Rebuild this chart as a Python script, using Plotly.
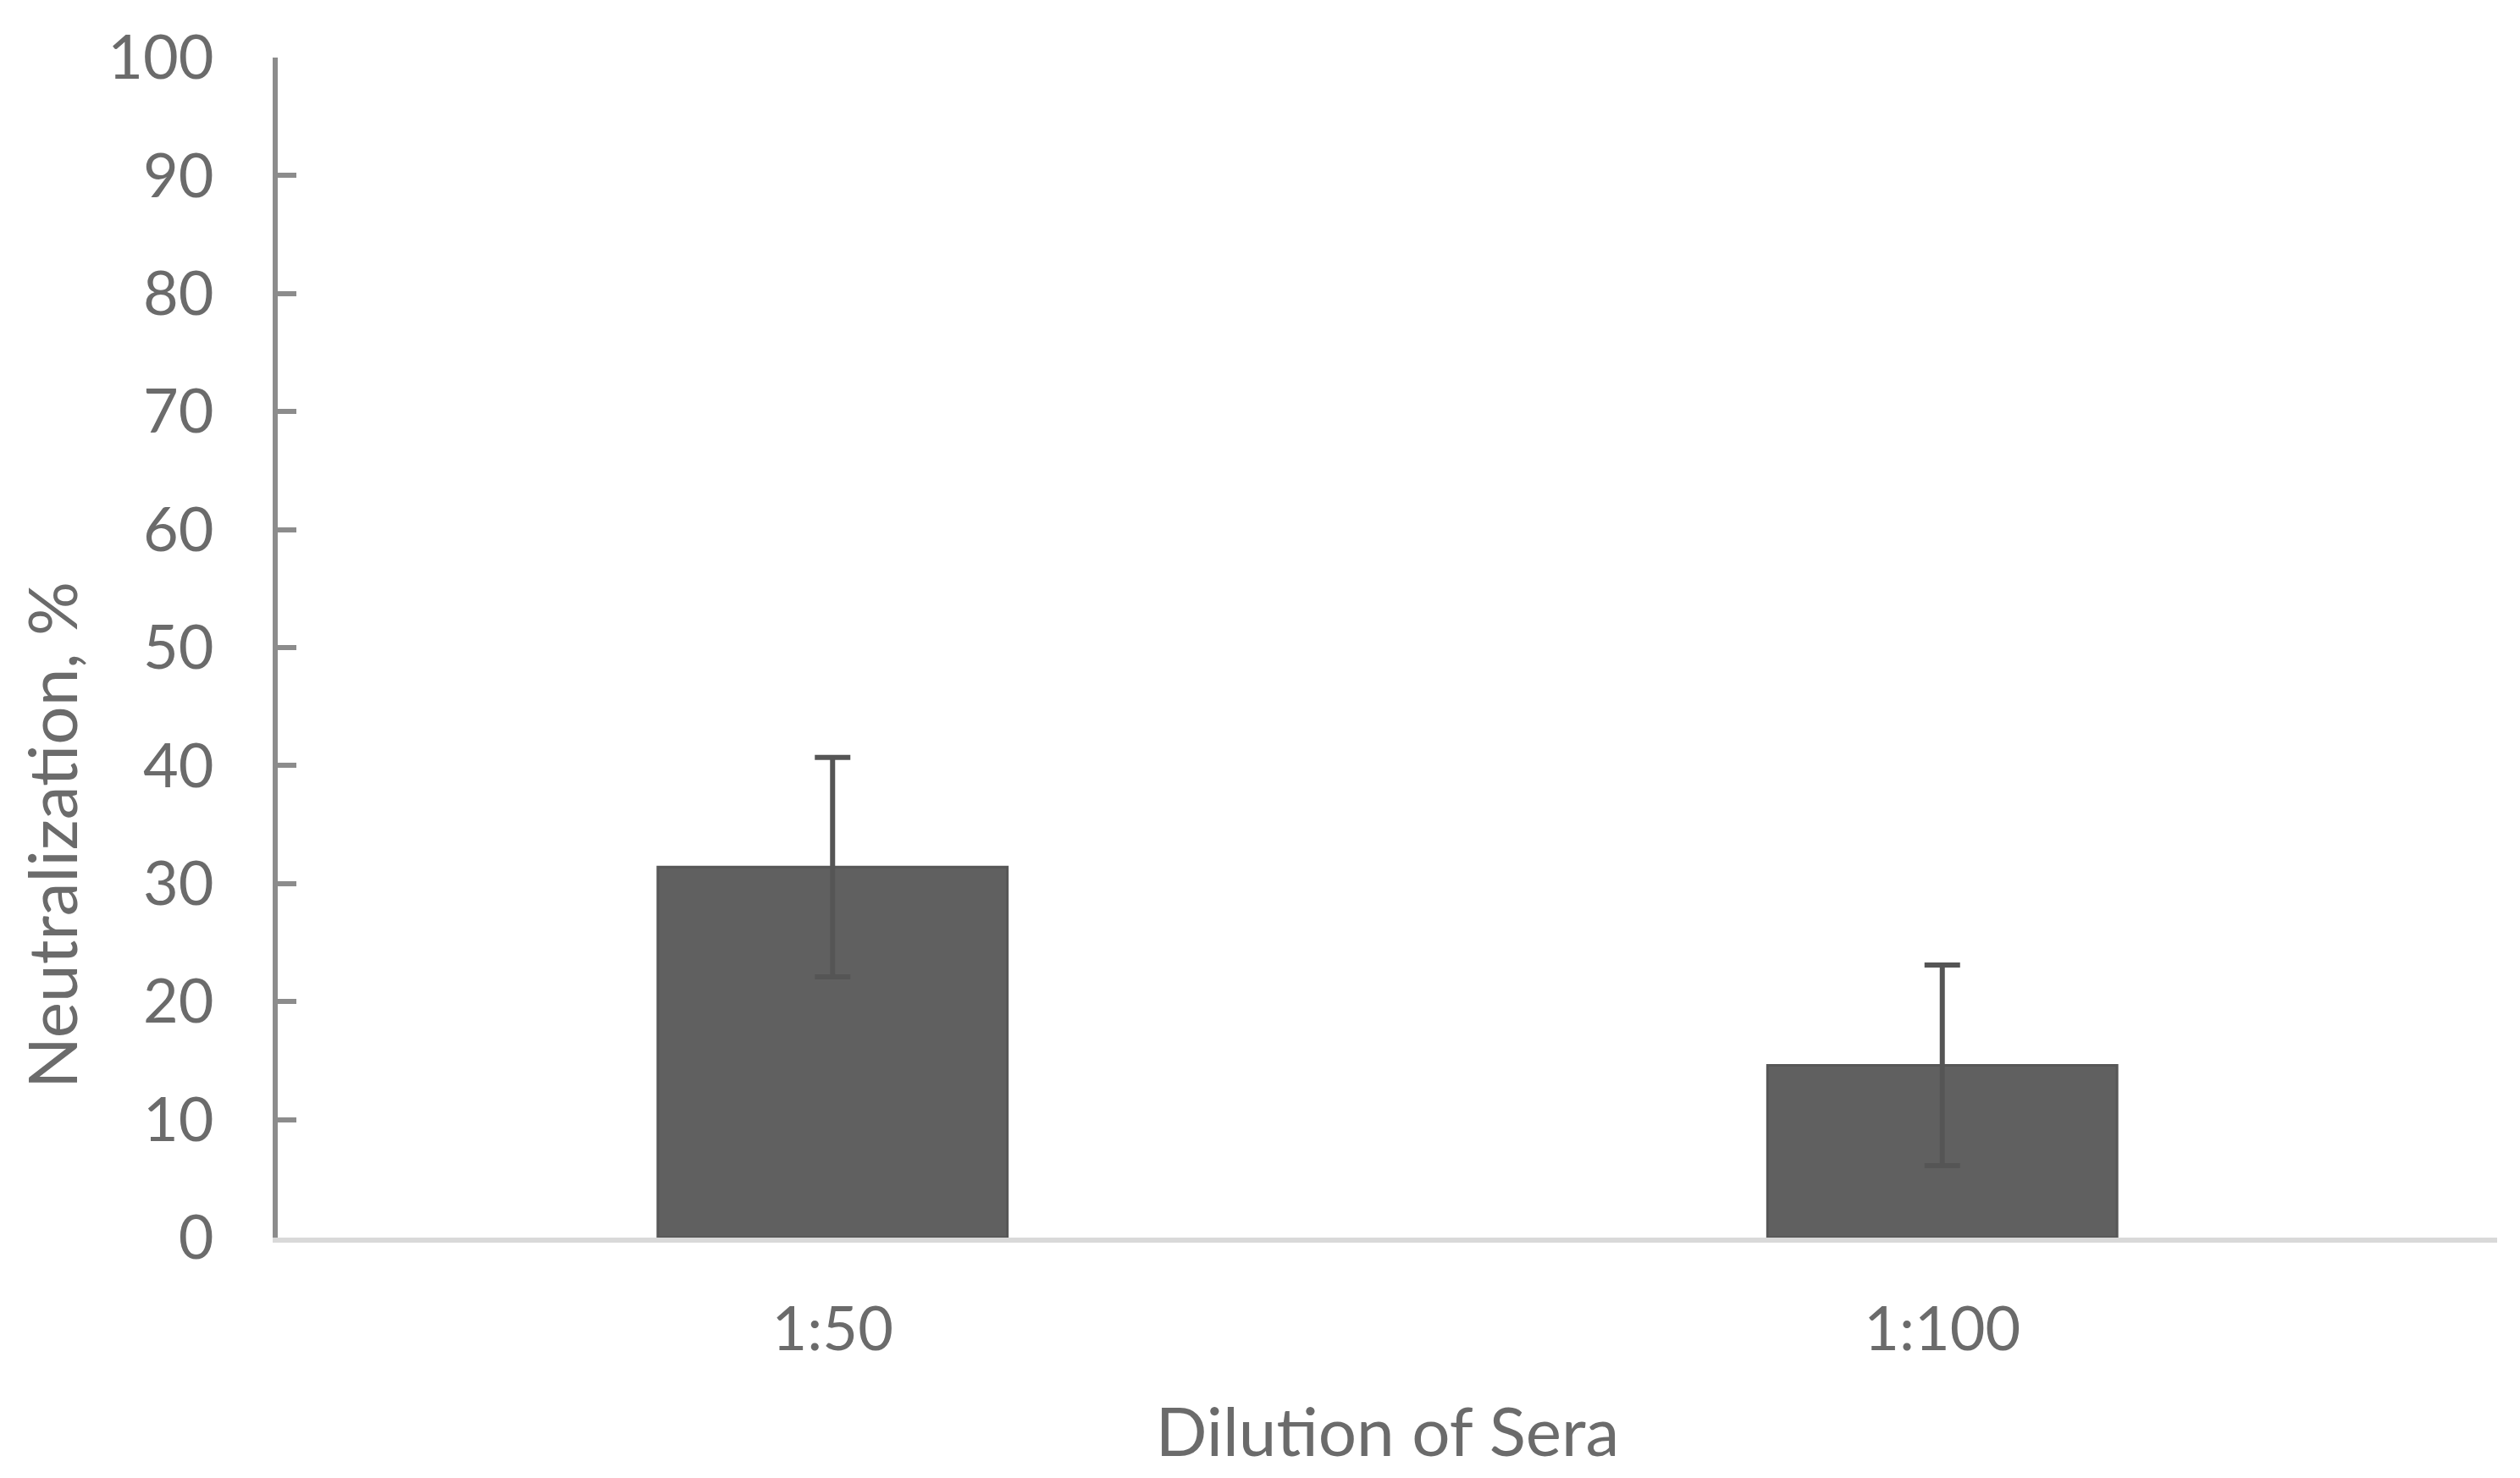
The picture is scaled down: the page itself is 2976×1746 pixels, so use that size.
import plotly.graph_objects as go

categories = ["1:50", "1:100"]
values = [31.4, 14.6]
errors = [9.3, 8.5]
y_ticks = [0, 10, 20, 30, 40, 50, 60, 70, 80, 90, 100]

FONT = "Lato"
W, H = 2968, 1738          # page body has an 8px margin
L, R, T, B = 320, 27, 60, 284
PW, PH = W - L - R, H - T - B
TXT = "#6b6b6b"

fig = go.Figure()
fig.add_trace(go.Bar(
    x=categories, y=values,
    marker=dict(color="#606060", line=dict(width=3, color="#575757")),
    error_y=dict(type="data", array=errors, visible=True,
                 color="#555555", thickness=6, width=21),
    width=0.315,
))

fig.update_layout(
    width=W, height=H,
    margin=dict(l=L, r=R, t=T, b=B),
    paper_bgcolor="white", plot_bgcolor="white",
    showlegend=False,
    font=dict(family=FONT, color=TXT),
    xaxis=dict(
        showline=True, linecolor="#d9d9d9", linewidth=6,
        showgrid=False, ticks="", zeroline=False,
        tickfont=dict(size=72, color=TXT),
        ticklabelstandoff=41,
        title=dict(text="Dilution of Sera", font=dict(size=80, color=TXT), standoff=57),
    ),
    yaxis=dict(
        range=[0, 100], tickvals=y_ticks,
        showline=True, linecolor="#8c8c8c", linewidth=6,
        ticks="inside", ticklen=22, tickwidth=6, tickcolor="#8c8c8c",
        showgrid=False, zeroline=False,
        tickfont=dict(size=72, color=TXT),
        ticklabelstandoff=55,
    ),
    annotations=[dict(
        text="Neutralization, %", textangle=-90,
        xref="paper", yref="paper",
        x=(2 - L) / PW, y=(H - B - 979) / PH,
        xanchor="left", yanchor="middle", showarrow=False,
        font=dict(size=80, color=TXT, family=FONT),
    )],
)

fig.write_html("out.html")
